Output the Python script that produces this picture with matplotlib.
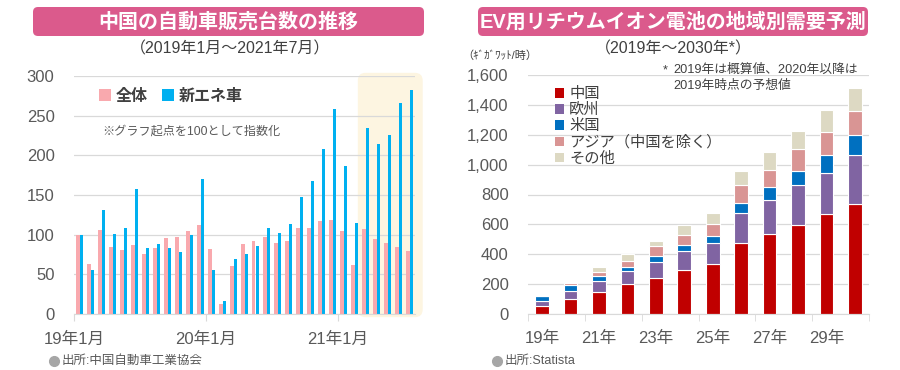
import numpy as np
import matplotlib
matplotlib.use("Agg")
import matplotlib.pyplot as plt
from matplotlib.patches import FancyBboxPatch, Patch
from matplotlib.lines import Line2D
from matplotlib.font_manager import FontProperties
from matplotlib.ticker import FuncFormatter, FixedLocator

FAMILY = ['Liberation Sans', 'Noto Sans CJK JP', 'DejaVu Sans']
plt.rcParams['font.family'] = FAMILY

# left chart: China auto sales index (Jan 2019 = 100), Jan 2019 - Jul 2021
total = [100, 63, 106, 84, 81, 87, 76, 83, 96, 97, 104, 112,
         82, 13, 61, 88, 92, 97, 89, 92, 108, 109, 117, 119,
         105, 62, 107, 95, 89, 85, 79]
nev = [100, 55, 131, 101, 108, 158, 83, 88, 83, 78, 99, 170,
       55, 17, 69, 76, 86, 108, 102, 113, 147, 168, 208, 258,
       187, 115, 235, 214, 226, 266, 282]
month_ticks = [0, 12, 24]
month_labels = ["19年1月", "20年1月", "21年1月"]
highlight_from = 26  # Mar 2021 onward

# right chart: EV battery demand by region (GWh)
years = ["19年", "20年", "21年", "22年", "23年", "24年", "25年", "26年", "27年", "28年", "29年", "30年"]
china = [51, 98, 145, 200, 238, 294, 332, 475, 535, 595, 668, 735]
europe = [34, 53, 73, 85, 107, 127, 140, 200, 231, 267, 279, 328]
usa = [33, 41, 34, 27, 40, 38, 47, 71, 83, 98, 120, 133]
asia = [0, 17, 26, 40, 67, 73, 83, 116, 118, 143, 154, 161]
other = [0, 0, 34, 47, 40, 61, 71, 98, 120, 125, 145, 158]
regions = ["中国", "欧州", "米国", "アジア（中国を除く）", "その他"]
region_colors = ["#C00000", "#8064A2", "#0070C0", "#D99594", "#DDD9C3"]

PINK = "#F9A9AE"
BLUE = "#00B0F0"
GRID = "#D9D9D9"
TXT = "#404040"
TICK = "#595959"
TITLE_BG = "#DB5A8C"

fig = plt.figure(figsize=(9, 3.7), dpi=100)
W, H = 900, 370


def fx(px):
    return px / W


def fy(py):
    return 1 - py / H


def style_axes(ax):
    for s in ["top", "right", "left"]:
        ax.spines[s].set_visible(False)
    ax.spines["bottom"].set_color(GRID)
    ax.yaxis.grid(True, color=GRID, lw=0.9)
    ax.set_axisbelow(True)
    ax.tick_params(axis="y", length=0, pad=14, labelsize=12, labelcolor=TICK)
    ax.tick_params(axis="x", which="both", labelsize=12, labelcolor=TICK)


# ---------- left chart ----------
ax1 = fig.add_axes([fx(74), fy(314), 341 / W, 238 / H])
x = np.arange(len(total)) + 0.5
ax1.bar(x - 0.17, total, width=0.34, color=PINK, zorder=2)
ax1.bar(x + 0.17, nev, width=0.34, color=BLUE, zorder=2)
ax1.set_xlim(0, len(total))
ax1.set_ylim(0, 300)
ax1.set_yticks(range(0, 301, 50))
style_axes(ax1)
ax1.set_xticks(month_ticks)
ax1.set_xticklabels(month_labels)
ax1.tick_params(axis="x", length=5, color=GRID, pad=8)

hl = FancyBboxPatch((highlight_from - 0.2, -4), len(total) - highlight_from + 0.9, 308,
                    boxstyle="round,pad=0,rounding_size=0.7", mutation_aspect=14,
                    fc="#FDF5E1", ec="none", zorder=0.2, clip_on=False)
ax1.add_patch(hl)

leg1 = ax1.legend(handles=[Patch(fc=PINK, ec="none", label="全体"),
                           Patch(fc=BLUE, ec="none", label="新エネ車")],
                  ncol=2, loc="center left", bbox_to_anchor=(0.055, 0.915),
                  frameon=False, handlelength=0.75, handleheight=0.75,
                  handletextpad=0.3, columnspacing=0.9, borderaxespad=0,
                  prop=FontProperties(family=FAMILY, weight="bold", size=11.5))
for t in leg1.get_texts():
    t.set_color(TXT)
ax1.text(0.082, 0.765, "※グラフ起点を100として指数化", transform=ax1.transAxes,
         fontsize=8.7, color=TICK, va="center", ha="left")

# ---------- right chart ----------
ax2 = fig.add_axes([fx(528), fy(314), 341 / W, 239 / H])
xi = np.arange(len(years))
bottom = np.zeros(len(years))
for name, vals, col in zip(regions, [china, europe, usa, asia, other], region_colors):
    ax2.bar(xi, vals, bottom=bottom, width=0.48, color=col, edgecolor="white",
            linewidth=0.8, label=name, zorder=2)
    bottom += np.array(vals)
ax2.set_xlim(-0.5, len(years) - 0.5)
ax2.set_ylim(0, 1600)
ax2.set_yticks(range(0, 1601, 200))
ax2.yaxis.set_major_formatter(FuncFormatter(lambda v, p: f"{int(v):,}"))
style_axes(ax2)
ax2.set_xticks(xi[::2])
ax2.set_xticklabels(years[::2])
ax2.xaxis.set_minor_locator(FixedLocator(np.arange(-0.5, len(years), 2.0)))
ax2.tick_params(axis="x", which="major", length=0, pad=12)
ax2.tick_params(axis="x", which="minor", length=5, color=GRID)

leg2 = ax2.legend(handles=[Patch(fc=c, ec="none", label=n) for n, c in zip(regions, region_colors)],
                  loc="upper left", bbox_to_anchor=(0.06, 0.975), frameon=False,
                  handlelength=0.6, handleheight=0.6, handletextpad=0.35,
                  labelspacing=0.13, borderaxespad=0,
                  prop=FontProperties(family=FAMILY, size=11))
for t in leg2.get_texts():
    t.set_color(TXT)

# ---------- titles and notes ----------
for (x0, x1), title in [((33, 424), "中国の自動車販売台数の推移"),
                        ((478, 868), "EV用リチウムイオン電池の地域別需要予測")]:
    fig.patches.append(FancyBboxPatch((x0 / 100, (H - 36) / 100), (x1 - x0) / 100, 0.29,
                                      boxstyle="round,pad=0,rounding_size=0.05",
                                      fc=TITLE_BG, ec="none",
                                      transform=fig.dpi_scale_trans, figure=fig))
    fig.text(fx((x0 + x1) / 2), fy(21.5), title, ha="center", va="center",
             fontsize=14.4, fontweight="bold", color="white")

fig.text(fx(230), fy(49), "（2019年1月～2021年7月）", ha="center", va="center",
         fontsize=11.5, color=TXT)
fig.text(fx(673), fy(49), "（2019年～2030年*）", ha="center", va="center",
         fontsize=11.5, color=TXT)
fig.text(fx(462), fy(56), "（ｷﾞｶﾞﾜｯﾄ/時）", ha="left", va="center", fontsize=8, color=TXT)
fig.text(fx(663), fy(70), "*", ha="left", va="center", fontsize=9.2, color=TXT)
fig.text(fx(673), fy(70), "2019年は概算値、2020年以降は", ha="left", va="center",
         fontsize=9.2, color=TXT)
fig.text(fx(673), fy(86), "2019年時点の予想値", ha="left", va="center",
         fontsize=9.2, color=TXT)

for xp, src in [(50, "出所:中国自動車工業協会"), (493, "出所:Statista")]:
    fig.add_artist(Line2D([fx(xp + 4)], [fy(361)], marker="o", markersize=7,
                          color="#A6A6A6", transform=fig.transFigure))
    fig.text(fx(xp + 12), fy(361), src, ha="left", va="center", fontsize=9, color=TICK)

fig.savefig("out.png", dpi=100, facecolor="white")
